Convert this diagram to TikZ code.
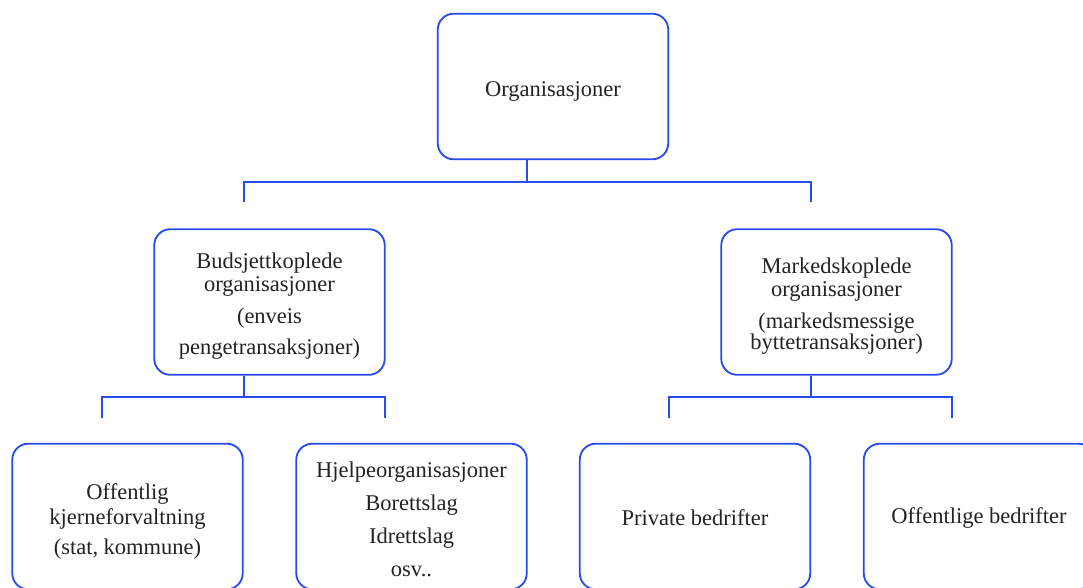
\documentclass[tikz,border=0pt]{standalone}
\usepackage{fontspec}
\setmainfont{Liberation Serif}
\usepackage{tikz}
\usetikzlibrary{positioning}
\definecolor{linkblue}{RGB}{40,75,240}
\definecolor{textgray}{RGB}{35,35,35}

\begin{document}
\begin{tikzpicture}[x = 0.025cm, y = -0.025cm,
    orgbox/.style = {draw = linkblue, line width = 1.3pt, rounded corners = 0.4cm,
        minimum width = 5.76cm, minimum height = 3.64cm, inner sep = 0pt},
    boxtext/.style = {align = center, text = textgray, inner sep = 0pt,
        font = \fontsize{16}{16.4}\selectfont},
    link/.style = {draw = linkblue, line width = 1.3pt}]
    \useasboundingbox (0, 0) rectangle (1083, 587);
    % boxes
    \node [orgbox] (org) at (553, 86.5) {};
    \node [orgbox] (bud) at (269.5, 302) {};
    \node [orgbox] (mark) at (836.5, 302) {};
    \node [orgbox] (kjerne) at (127.5, 516.5) {};
    \node [orgbox] (hjelp) at (411.5, 516.5) {};
    \node [orgbox] (priv) at (695, 516.5) {};
    \node [orgbox] (offb) at (979, 516.5) {};
    % texts
    \node [boxtext] (orgtext) at ([yshift = -0.12cm] org.center) {Organisasjoner};
    \node [boxtext] (budtext) at ([yshift = -0.11cm] bud.center) {Budsjettkoplede\\ organisasjoner\\[6pt] (enveis\\[6pt] pengetransaksjoner)};
    \node [boxtext] (marktext) at ([yshift = -0.1cm] mark.center) {Markedskoplede\\ organisasjoner\\[6pt] (markedsmessige\\[-1.5pt] byttetransaksjoner)};
    \node [boxtext] (kjernetext) at ([yshift = -0.12cm] kjerne.center) {Offentlig\\[1pt] kjerneforvaltning\\[5pt] (stat, kommune)};
    \node [boxtext] (hjelptext) at ([yshift = -0.07cm] hjelp.center) {Hjelpeorganisasjoner\\[7pt] Borettslag\\[7pt] Idrettslag\\[7pt] osv..};
    \node [boxtext] (privtext) at ([yshift = -0.03cm] priv.center) {Private bedrifter};
    \node [boxtext] (offbtext) at ([yshift = -0.03cm] offb.center) {Offentlige bedrifter};
    % connectors
    \coordinate (j0) at (527, 182);
    \coordinate (d1) at (244, 202);
    \coordinate (d2) at (811, 202);
    \draw [link] (org.south -| j0) -- (j0);
    \draw [link] (d1) |- (j0) -| (d2);
    \coordinate (j1) at (244, 397);
    \coordinate (d3) at (102, 418);
    \coordinate (d4) at (385, 418);
    \draw [link] (bud.south -| j1) -- (j1);
    \draw [link] (d3) |- (j1) -| (d4);
    \coordinate (j2) at (811, 397);
    \coordinate (d5) at (669, 418);
    \coordinate (d6) at (952, 418);
    \draw [link] (mark.south -| j2) -- (j2);
    \draw [link] (d5) |- (j2) -| (d6);
\end{tikzpicture}
\end{document}
